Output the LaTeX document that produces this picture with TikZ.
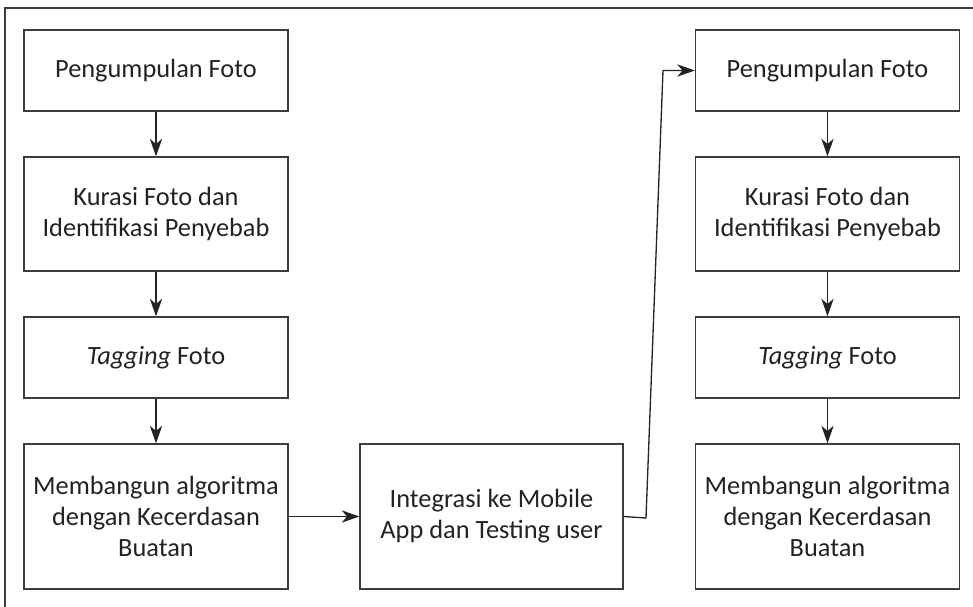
\documentclass[tikz,border=0pt]{standalone}
\usepackage{fontspec}
\setmainfont{Carlito}
\usetikzlibrary{arrows.meta}
\definecolor{boxline}{RGB}{60,60,60}
\definecolor{boxtext}{RGB}{34,34,34}
\tikzset{
  stagebox/.style={draw=boxline, line width=0.8pt, text=boxtext, align=center,
    minimum width=5.28cm, inner sep=0pt, font=\fontsize{15}{17.6}\selectfont},
  flowarrow/.style={draw=boxline!60!black, line width=0.75pt,
    -{Stealth[length=10pt,width=7pt,inset=3pt]}}
}

\begin{document}
\begin{tikzpicture}[x=0.02cm, y=-0.02cm]
    \useasboundingbox (0,0) rectangle (973,607);
    % outer frame
    \draw[boxline, line width=0.8pt] (5,8) rectangle (1000,640);

    % first round
    \node[stagebox, minimum height=1.62cm] (l1) at (156,70.5) {Pengumpulan Foto};
    \node[stagebox, minimum height=2.28cm] (l2) at (156,214) {Kurasi Foto dan\\Identifikasi Penyebab};
    \node[stagebox, minimum height=1.62cm] (l3) at (156,357.5) {\textit{Tagging} Foto};
    \node[stagebox, minimum height=2.9cm] (l4) at (156,516.5) {Membangun algoritma\\dengan Kecerdasan\\Buatan};

    % integration
    \node[stagebox, minimum width=5.26cm, minimum height=2.9cm] (app) at (491.5,516.5) {Integrasi ke Mobile\\App dan Testing user};

    % second round
    \node[stagebox, minimum height=1.62cm] (r1) at (827.5,70.5) {Pengumpulan Foto};
    \node[stagebox, minimum height=2.28cm] (r2) at (827.5,214) {Kurasi Foto dan\\Identifikasi Penyebab};
    \node[stagebox, minimum height=1.62cm] (r3) at (827.5,357.5) {\textit{Tagging} Foto};
    \node[stagebox, minimum height=2.9cm] (r4) at (827.5,516.5) {Membangun algoritma\\dengan Kecerdasan\\Buatan};

    \coordinate (bendlow) at (646,518);
    \coordinate (bendhigh) at (663,70.5);

    \draw[flowarrow] (l1) -- (l2);
    \draw[flowarrow] (l2) -- (l3);
    \draw[flowarrow] (l3) -- (l4);
    \draw[flowarrow] (l4) -- (app);
    \draw[flowarrow] (app.east) -- (bendlow) -- (bendhigh) -- (r1.west);
    \draw[flowarrow] (r1) -- (r2);
    \draw[flowarrow] (r2) -- (r3);
    \draw[flowarrow] (r3) -- (r4);
\end{tikzpicture}
\end{document}
